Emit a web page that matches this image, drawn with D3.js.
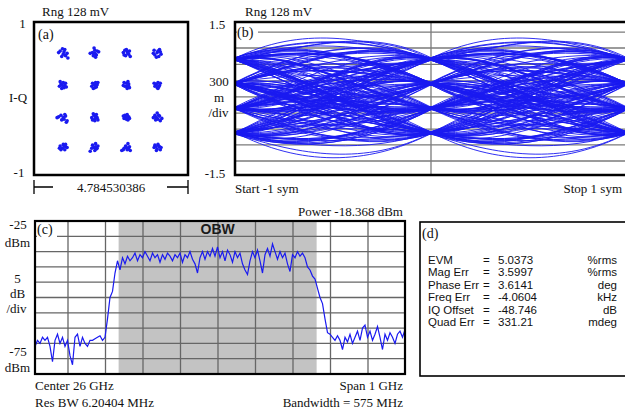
<!DOCTYPE html>
<html>
<head>
<meta charset="utf-8">
<script src="https://cdn.jsdelivr.net/npm/d3@7"></script>
<style>
  body { margin: 0; background: #fff; }
  svg { display: block; white-space: pre; }
  .serif { font-family: "Liberation Serif", "Times New Roman", serif; font-size: 13px; fill: #111; }
  .sans { font-family: "Liberation Sans", Arial, sans-serif; font-size: 11.5px; fill: #111; }
</style>
</head>
<body>
<svg width="625" height="414"></svg>
<script>
// ---- data ----

// (a) constellation: 16QAM cluster centres (I left->right, Q top->bottom)
const iqLevelsI = [-0.62, -0.21, 0.2, 0.6];
const iqLevelsQ = [0.59, 0.17, -0.25, -0.64];
// scatter of every cluster, in 1/100 of the I-Q unit
const iqNoise = [
  [[-4, 3], [2, 5], [0, -1], [5, 0], [-2, -4], [3, -3], [-6, 1], [1, 2], [6, -6], [-1, 6]],
  [[0, 4], [-3, 1], [2, -2], [5, 2], [-6, 0], [1, -5], [-1, 7], [3, 3], [-2, -3], [0, 0]],
  [[-2, 4], [1, 2], [3, -1], [-3, -2], [0, 5], [4, 3], [-1, -3], [2, 0], [5, -4], [-4, 1]],
  [[-4, 4], [3, 5], [0, 1], [5, -1], [-3, -2], [2, -4], [-5, 0], [1, 3], [4, 2], [-1, -5]],
  [[-3, 2], [0, 4], [2, 0], [-5, -1], [1, -3], [-2, -4], [3, 3], [-1, 0], [4, -2], [-4, 5]],
  [[-3, 3], [1, 4], [3, 1], [-4, -1], [0, -3], [2, -2], [-1, 1], [4, 4], [-2, -4], [1, 0]],
  [[-3, 4], [0, 3], [3, 2], [-2, -1], [1, -4], [4, -3], [-4, 0], [2, 5], [0, -1], [3, -1]],
  [[-2, 2], [1, 4], [3, 0], [-3, -1], [0, -3], [2, -2], [-1, 1], [4, 3], [-4, 3], [1, -4]],
  [[-6, 1], [-3, 3], [0, 0], [3, 2], [-2, -3], [1, -2], [5, -4], [-8, 0], [2, 4], [4, -6]],
  [[-4, 0], [-1, 3], [2, 4], [3, 0], [0, -2], [-3, -3], [1, 1], [4, -3], [-2, 5], [0, -4]],
  [[-2, 3], [1, 4], [3, 1], [-3, -1], [0, -2], [2, -3], [-1, 0], [4, -1], [1, 2], [-4, 2]],
  [[-3, 3], [0, 6], [3, 2], [-5, 0], [1, -2], [4, -4], [-2, -3], [6, -1], [2, 3], [-1, 0]],
  [[-4, 2], [0, 4], [3, 1], [-1, -1], [2, -3], [-3, -3], [5, 0], [1, 2], [-5, -1], [3, 4]],
  [[-3, 3], [1, 5], [4, 2], [-1, 0], [2, -2], [-4, -1], [0, -4], [-6, -5], [3, -1], [1, 1]],
  [[-4, -3], [-1, 2], [2, 5], [0, 0], [3, -2], [-3, -1], [5, -4], [1, -3], [-6, -4], [4, 1]],
  [[-3, 3], [1, 4], [3, 1], [-4, 0], [0, -2], [4, -3], [-1, -4], [2, 2], [-2, 1], [5, 0]]
];

// (b) eye diagram: received I samples, one per symbol, in symbol units (-3..3)
const eyeSamples = [
  1.1, -2.9, 3.05, 2.95, -1.05, 0.9, -0.95, -3.1, -2.9, 1.05, 3.1, -1.1, -0.9, 2.9, 1.0, -3.05, 0.95, 1.1, -1.0, 3.0,
  -2.95, -1.1, 3.05, 0.9, 1.05, -3.0, -0.9, -1.05, 1.1, 2.95, 3.1, -2.9, 0.95, -1.1, 2.9, -1.0, -3.1, 1.05, 3.0, -2.95,
  -3.05, 2.9, -0.95, 1.1, 0.9, -1.05, -2.9, 3.1, 1.0, -0.9, 1.05, -3.0, -1.1, 2.95, 3.05, 0.95, -1.0, -0.95, -3.1, 1.1,
  2.9, -2.95, 3.0, -1.05, 0.9, 1.1, 3.05, -0.9, -3.0, -2.9, -1.1, 1.0, -0.95, 3.1, -3.05, 0.95, 2.95, 3.0, -2.9, -1.05,
  1.05, -3.1, 2.9, 1.1, -1.0, -0.9, 0.95, 3.05, -2.95, -1.1, -3.0, 1.0, 0.9, -2.9, 3.1, -1.05, 2.95, 1.1, -0.95, 1.0,
  -3.0, 3.05, -2.9, -1.0, 2.95, 0.9, -3.05, -3.0, 3.0, -1.1, 1.05, -0.9, 3.1, 2.9, -1.05, 1.1, -2.95, 0.95, -3.1, 3.0,
  -0.95, 1.05, -1.1, 2.9, -2.9, 0.9, 3.05, -1.0, 1.1, -3.0, -0.9, 3.0, 1.0, -2.95, -1.05, 2.95, -3.1, 1.05, 0.9, -1.1,
  3.1, 2.95, -0.95, -2.9, 1.1, -1.0, 3.0, -3.05, 0.95, 1.05, -1.05, -3.0, 2.9, -0.9, 1.0, 3.05, -2.95, -1.1, 0.9, 2.9,
  -3.1, -1.0, 1.05, -2.9, 3.0, 1.1, -0.95, 3.05, -3.0, 0.9, -1.1, 2.95, 1.0, -2.95, -0.9, -3.05, 3.1, 1.05, -1.05, 0.95,
  2.9, -3.0, -1.1, 3.0, 0.9, -2.9, 1.1, -1.0, 2.95, -3.1, 3.05, -0.95, -1.05, 1.0, -3.0, 2.9, 0.95, -0.9, 3.1, -2.95
];
// outer levels on screen (value at symbol -3 and +3)
const eyeLevelRange = [-0.676, 0.775];
const eyeGrid = [1.3, 0.99, 0.67, 0.345, 0.03, -0.285, -0.6, -0.91, -1.225];

// (c) spectrum, dBm, 149 bins from 25.512 GHz in steps of 6.667 MHz
const specStart = 25.512;
const specStep = 0.0066667;
const specValues = [
  -66, -64, -65, -63, -64, -63, -66, -71, -64, -62, -65, -63, -66, -64, -69, -72, -63, -62, -66, -63,
  -65, -66, -64, -64, -63.5, -63, -62.5, -64,
  -63, -57, -50, -48, -42, -38,
  -41, -37, -39, -36.5, -38, -37, -35.5, -38, -36, -37, -35, -36.5, -38, -35.5, -37, -36, -38.5, -36,
  -37.5, -35.5, -36.5, -38, -36, -37, -35.5, -38.5, -36, -37, -35, -37.5, -39, -42, -37, -35, -37.5,
  -35, -36.5, -34, -36.5, -33.5, -37, -35, -38, -34.5, -36, -38.5, -35, -37, -35.5, -39, -41, -42.5,
  -38, -35, -37, -34.5, -38, -42, -36, -34, -36.5, -32.5, -35, -37.5, -35, -37, -35.5, -39, -41.5,
  -36, -37, -35, -36.5, -35.5,
  -37, -40, -41, -43, -44, -47, -50, -52, -57,
  -61.5, -62, -63, -64, -62.5, -64, -67, -63, -64.5, -62, -65, -63, -61, -64, -60, -59, -63, -61,
  -64, -62, -59.5, -63, -67, -62, -64, -61.5, -63, -65, -62, -61, -63, -60.5
];
const specGridF = [25.6, 25.7, 25.8, 25.9, 26.0, 26.1, 26.2, 26.3, 26.4];
const specGridDb = [-30, -35, -40, -45, -50, -55, -60, -65, -70];
const obwBand = [25.735, 26.263];

// (d) error summary
const errLabels = ["EVM", "Mag Err", "Phase Err", "Freq Err", "IQ Offset", "Quad Err"];
const errValues = ["5.0373", "3.5997", "3.6141", "-4.0604", "-48.746", "331.21"];
const errUnits = ["%rms", "%rms", "deg", "kHz", "dB", "mdeg"];

// ---- drawing ----
let svg = d3.select("svg");
let blue = "#1a1af0";
let gridGrey = "#7a7a7a";

function text(x, y, str, cls, anchor) {
  return svg.append("text")
    .attr("class", cls || "serif")
    .attr("x", x)
    .attr("y", y)
    .attr("text-anchor", anchor || "start")
    .text(str);
}

// hermite curve through the samples with steep tangents, so the traces
// swing past the outer levels between symbols like a narrow-filter eye
function curveEye(gain) {
  return function (context) {
    let pts;
    return {
      areaStart: function () {},
      areaEnd: function () {},
      lineStart: function () { pts = []; },
      point: function (x, y) { pts.push([+x, +y]); },
      lineEnd: function () {
        let n = pts.length;
        if (!n) return;
        let m = pts.map(function (p, i) {
          let a = pts[Math.max(i - 1, 0)], b = pts[Math.min(i + 1, n - 1)];
          return b[0] === a[0] ? 0 : gain * (b[1] - a[1]) / (b[0] - a[0]);
        });
        context.moveTo(pts[0][0], pts[0][1]);
        for (let i = 0; i < n - 1; i++) {
          let h = (pts[i + 1][0] - pts[i][0]) / 3;
          context.bezierCurveTo(
            pts[i][0] + h, pts[i][1] + m[i] * h,
            pts[i + 1][0] - h, pts[i + 1][1] - m[i + 1] * h,
            pts[i + 1][0], pts[i + 1][1]);
        }
      }
    };
  };
}

// (a) constellation
let xIQ = d3.scaleLinear([-1, 1], [34, 188]);
let yIQ = d3.scaleLinear([-1, 1], [175, 22]);

let iqPoints = [];
iqLevelsQ.forEach(function (q, r) {
  iqLevelsI.forEach(function (i, c) {
    iqNoise[r * 4 + c].forEach(function (o) {
      iqPoints.push([i + o[0] / 100, q + o[1] / 100]);
    });
  });
});

svg.append("g")
  .selectAll("circle")
  .data(iqPoints)
  .enter()
  .append("circle")
  .attr("cx", (d) => xIQ(d[0]))
  .attr("cy", (d) => yIQ(d[1]))
  .attr("r", 1.8)
  .attr("fill", blue);

svg.append("rect")
  .attr("x", 34).attr("y", 22).attr("width", 154).attr("height", 153)
  .attr("fill", "none").attr("stroke", "#000").attr("stroke-width", 2.5);

text(42, 15.5, "Rng 128  mV");
text(22.5, 28, "1", "serif", "middle");
text(19, 177, "-1", "serif", "middle");
text(18, 102, "I-Q", "serif", "middle");
text(38, 39, "(a)").style("font-size", "14px");
text(111, 192, "4.784530386", "serif", "middle");
svg.append("path")
  .attr("d", "M34,180V194M34,187H53M167,187H188M188,180V194")
  .attr("fill", "none").attr("stroke", "#000").attr("stroke-width", 1.3);

// (b) eye diagram
let xEye = d3.scaleLinear([-1, 1], [235, 627]);
let yEye = d3.scaleLinear([-1.5, 1.5], [175, 22]);
let symToValue = d3.scaleLinear([-3, 3], eyeLevelRange);

svg.append("clipPath").attr("id", "clipEye")
  .append("rect").attr("x", 235).attr("y", 22).attr("width", 392).attr("height", 153);

let gEye = svg.append("g").attr("clip-path", "url(#clipEye)");

gEye.selectAll("line.grid")
  .data(eyeGrid)
  .enter()
  .append("line")
  .attr("x1", 235).attr("x2", 627)
  .attr("y1", (d) => yEye(d)).attr("y2", (d) => yEye(d))
  .attr("stroke", gridGrey).attr("stroke-width", 1.3);
gEye.append("line")
  .attr("x1", xEye(0)).attr("x2", xEye(0)).attr("y1", 22).attr("y2", 175)
  .attr("stroke", gridGrey).attr("stroke-width", 1.3);

// one trace per symbol: samples k-2..k+2 placed at t = -2..2
let eyeLine = d3.line()
  .x((d) => xEye(d[0]))
  .y((d) => yEye(symToValue(d[1])))
  .curve(curveEye(2.7));

let traces = [];
for (let k = 2; k < eyeSamples.length - 2; k++) {
  let tr = [];
  for (let j = -2; j <= 2; j++) {
    tr.push([j, eyeSamples[k + j]]);
  }
  traces.push(tr);
}

gEye.selectAll("path.trace")
  .data(traces)
  .enter()
  .append("path")
  .attr("class", "trace")
  .attr("d", eyeLine)
  .attr("fill", "none")
  .attr("stroke", blue)
  .attr("stroke-width", 0.9);

// (b) label sits on a white patch over the grid
svg.append("rect").attr("x", 237).attr("y", 25).attr("width", 21).attr("height", 15).attr("fill", "#fff");
text(237, 37, "(b)").style("font-size", "14px");

svg.append("rect")
  .attr("x", 235).attr("y", 22).attr("width", 392).attr("height", 153)
  .attr("fill", "none").attr("stroke", "#000").attr("stroke-width", 2.5);

text(245, 15.5, "Rng 128  mV");
text(217, 29, "1.5", "serif", "middle");
text(219, 86, "300", "serif", "middle");
text(219, 101.5, "m", "serif", "middle");
text(218.5, 116.5, "/div", "serif", "middle");
text(215, 178, "-1.5", "serif", "middle");
text(235, 193, "Start -1  sym");
text(622, 193, "Stop 1  sym", "serif", "end");

// (c) spectrum
let xSpec = d3.scaleLinear([25.5, 26.5], [30.5, 405.5]);
let ySpec = d3.scaleLinear([-75, -25], [374, 221]);

svg.append("clipPath").attr("id", "clipSpec")
  .append("rect").attr("x", 35).attr("y", 221).attr("width", 370).attr("height", 153);

let gSpec = svg.append("g").attr("clip-path", "url(#clipSpec)");

gSpec.append("rect")
  .attr("x", xSpec(obwBand[0]))
  .attr("width", xSpec(obwBand[1]) - xSpec(obwBand[0]))
  .attr("y", 221).attr("height", 153)
  .attr("fill", "#c3c3c3");

gSpec.selectAll("line.vgrid")
  .data(specGridF)
  .enter()
  .append("line")
  .attr("x1", (d) => xSpec(d)).attr("x2", (d) => xSpec(d))
  .attr("y1", 221).attr("y2", 374)
  .attr("stroke", "#666").attr("stroke-width", 1.3);
gSpec.selectAll("line.hgrid")
  .data(specGridDb)
  .enter()
  .append("line")
  .attr("x1", 35).attr("x2", 405)
  .attr("y1", (d) => ySpec(d)).attr("y2", (d) => ySpec(d))
  .attr("stroke", "#666").attr("stroke-width", 1.3);

let specLine = d3.line()
  .x(function (d, i) { return xSpec(specStart + i * specStep); })
  .y(function (d) { return ySpec(d); });

gSpec.append("path")
  .datum(specValues)
  .attr("d", specLine)
  .attr("fill", "none")
  .attr("stroke", blue)
  .attr("stroke-width", 1.2);

svg.append("rect").attr("x", 37).attr("y", 224).attr("width", 20).attr("height", 15).attr("fill", "#fff");
text(37, 234, "(c)").style("font-size", "14px");

svg.append("text")
  .attr("x", (xSpec(obwBand[0]) + xSpec(obwBand[1])) / 2)
  .attr("y", 233.5)
  .attr("text-anchor", "middle")
  .style("font-family", "Liberation Sans, Arial, sans-serif")
  .style("font-size", "14px")
  .style("font-weight", "bold")
  .attr("fill", "#1a1a1a")
  .text("OBW");

svg.append("rect")
  .attr("x", 35).attr("y", 221).attr("width", 370).attr("height", 153)
  .attr("fill", "none").attr("stroke", "#000").attr("stroke-width", 2.2);

text(403, 215.5, "Power -18.368  dBm", "serif", "end");
text(18, 229, "-25", "serif", "middle");
text(17.5, 246.5, "dBm", "serif", "middle");
text(17.5, 283, "5", "serif", "middle");
text(17.5, 298, "dB", "serif", "middle");
text(16.5, 313, "/div", "serif", "middle");
text(18, 356, "-75", "serif", "middle");
text(17.5, 372, "dBm", "serif", "middle");
text(35, 390, "Center 26  GHz");
text(403, 390, "Span 1  GHz", "serif", "end");
text(35, 407, "Res BW 6.20404  MHz");
text(403, 407, "Bandwidth  = 575  MHz", "serif", "end");

// (d) error table
svg.append("rect")
  .attr("x", 420).attr("y", 222).attr("width", 212).attr("height", 154)
  .attr("fill", "none").attr("stroke", "#000").attr("stroke-width", 1.6);

text(422, 238, "(d)").style("font-size", "14px");

let rowY = d3.scaleLinear([0, 5], [264, 326]);
let rows = svg.append("g").selectAll("g")
  .data(errLabels)
  .enter()
  .append("g")
  .attr("transform", (d, i) => "translate(0," + rowY(i) + ")");

rows.append("text").attr("class", "sans").attr("x", 428).text((d) => d);
rows.append("text").attr("class", "sans").attr("x", 483).text("=");
rows.append("text").attr("class", "sans").attr("x", 498).text((d, i) => errValues[i]);
rows.append("text").attr("class", "sans").attr("x", 617).attr("text-anchor", "end").text((d, i) => errUnits[i]);
</script>
</body>
</html>
